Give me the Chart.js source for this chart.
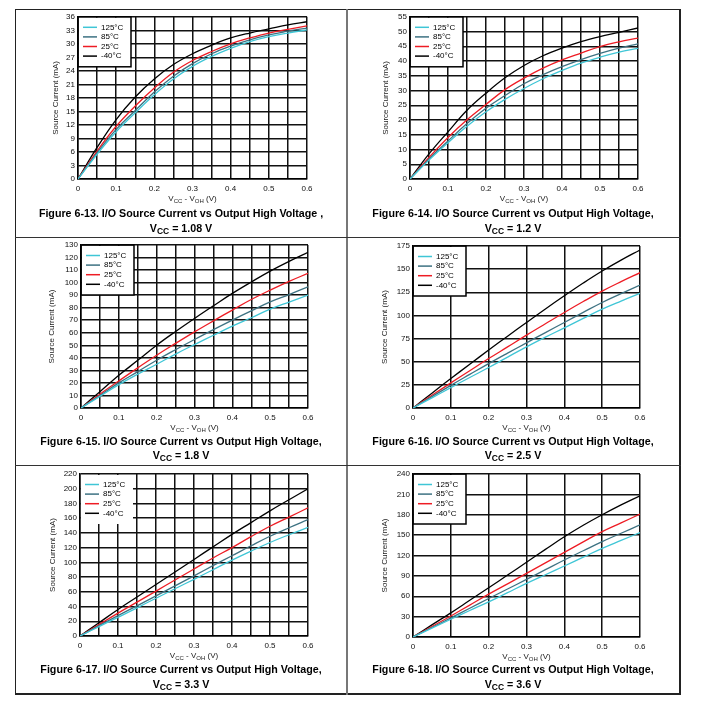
<!DOCTYPE html>
<html>
<head>
<meta charset="utf-8">
<script src="https://cdn.jsdelivr.net/npm/chart.js@4.4.1/dist/chart.umd.min.js"></script>
<style>
body { margin: 0; background: #fff; font-family: "Liberation Sans", Arial, sans-serif; }
.line { position: absolute; background: #222; }
.cell { position: absolute; width: 332px; height: 228px; }
.cell canvas { position: absolute; left: 0; top: 0; }
.cap { position: absolute; left: 0; width: 100%; text-align: center; font-weight: bold; font-size: 10.7px; color: #000; line-height: 12px; }
.cap sub { font-size: 8.5px; vertical-align: -2px; line-height: 0; }
</style>
</head>
<body>
<div class="line" style="left:15px;top:9px;width:666px;height:1px"></div>
<div class="line" style="left:15px;top:693px;width:666px;height:2px"></div>
<div class="line" style="left:15px;top:9px;width:1px;height:686px"></div>
<div class="line" style="left:679px;top:9px;width:2px;height:686px"></div>
<div class="line" style="left:346px;top:9px;width:2px;height:686px;background:#777"></div>
<div class="line" style="left:15px;top:237px;width:666px;height:1px;background:#333"></div>
<div class="line" style="left:15px;top:465px;width:666px;height:1px;background:#333"></div>

<div class="cell" style="left:15px;top:9px"><canvas id="c1" width="332" height="200"></canvas>
  <div class="cap" style="top:198px">Figure 6-13. I/O Source Current vs Output High Voltage ,</div>
  <div class="cap" style="top:213px">V<sub>CC</sub> = 1.08 V</div></div>
<div class="cell" style="left:347px;top:9px"><canvas id="c2" width="332" height="200"></canvas>
  <div class="cap" style="top:198px">Figure 6-14. I/O Source Current vs Output High Voltage,</div>
  <div class="cap" style="top:213px">V<sub>CC</sub> = 1.2 V</div></div>
<div class="cell" style="left:15px;top:237px"><canvas id="c3" width="332" height="200"></canvas>
  <div class="cap" style="top:198px">Figure 6-15. I/O Source Current vs Output High Voltage,</div>
  <div class="cap" style="top:212px">V<sub>CC</sub> = 1.8 V</div></div>
<div class="cell" style="left:347px;top:237px"><canvas id="c4" width="332" height="200"></canvas>
  <div class="cap" style="top:198px">Figure 6-16. I/O Source Current vs Output High Voltage,</div>
  <div class="cap" style="top:212px">V<sub>CC</sub> = 2.5 V</div></div>
<div class="cell" style="left:15px;top:465px"><canvas id="c5" width="332" height="200"></canvas>
  <div class="cap" style="top:198px">Figure 6-17. I/O Source Current vs Output High Voltage,</div>
  <div class="cap" style="top:213px">V<sub>CC</sub> = 3.3 V</div></div>
<div class="cell" style="left:347px;top:465px"><canvas id="c6" width="332" height="200"></canvas>
  <div class="cap" style="top:198px">Figure 6-18. I/O Source Current vs Output High Voltage,</div>
  <div class="cap" style="top:213px">V<sub>CC</sub> = 3.6 V</div></div>

<script>
// V(CC) - V(OH) in volts
const vdrop = [0, 0.05, 0.1, 0.15, 0.2, 0.25, 0.3, 0.35, 0.4, 0.45, 0.5, 0.55, 0.6];
const tempLabels = ['125°C', '85°C', '25°C', '-40°C'];
const tempColors = ['#3fc6d6', '#3d7282', '#ee1c24', '#000000'];

// source current (mA), one array per temperature: 125, 85, 25, -40
const vcc108 = [
  [0, 5.5, 10.5, 14.7, 18.7, 22.2, 25.0, 27.2, 29.0, 30.5, 31.6, 32.4, 33.1],
  [0, 5.8, 11.0, 15.2, 19.3, 22.8, 25.6, 27.8, 29.5, 30.9, 32.0, 32.8, 33.5],
  [0, 6.2, 11.7, 16.2, 20.2, 23.7, 26.3, 28.3, 30.0, 31.3, 32.4, 33.2, 34.0],
  [0, 7.0, 13.2, 18.2, 22.2, 25.4, 27.8, 29.7, 31.3, 32.4, 33.3, 34.2, 34.9]
];
const vcc12 = [
  [0, 6.4, 12.3, 17.9, 22.8, 27.0, 30.7, 34.0, 36.8, 39.3, 41.3, 43.0, 44.3],
  [0, 6.8, 12.9, 18.8, 24.0, 28.3, 32.3, 35.4, 38.1, 40.5, 42.6, 44.4, 45.8],
  [0, 7.3, 14.1, 20.1, 25.3, 30.3, 34.2, 37.6, 40.4, 42.7, 44.9, 46.5, 47.8],
  [0, 8.5, 16.0, 23.3, 29.1, 34.3, 38.5, 41.8, 44.4, 46.6, 48.3, 49.7, 51.2]
];
const vcc18 = [
  [0, 9.3, 18.6, 27.0, 34.9, 43.0, 50.6, 58.0, 65.3, 72.0, 78.8, 84.5, 90.0],
  [0, 10.0, 20.0, 29.0, 38.1, 46.5, 54.6, 62.5, 70.1, 77.5, 84.7, 90.5, 96.7],
  [0, 11.0, 21.6, 32.0, 42.1, 51.5, 60.7, 69.5, 78.1, 86.5, 94.0, 101.0, 107.4],
  [0, 13.0, 26.1, 38.0, 50.1, 61.0, 71.4, 81.5, 91.4, 100.5, 109.2, 117.0, 124.1]
];
const vcc25 = [
  [0, 11.0, 22.0, 33.0, 43.7, 55.0, 66.0, 76.5, 86.6, 96.8, 106.8, 115.5, 123.8],
  [0, 12.3, 24.5, 36.3, 48.0, 59.3, 70.4, 81.5, 92.4, 103.3, 114.0, 123.5, 132.8],
  [0, 13.7, 27.1, 40.3, 53.4, 66.0, 78.7, 91.0, 103.2, 115.0, 126.3, 136.5, 146.2],
  [0, 16.0, 31.8, 47.3, 62.6, 77.6, 92.4, 107.0, 121.2, 135.0, 148.0, 159.8, 170.7]
];
const vcc33 = [
  [0, 12.8, 25.4, 38.3, 51.3, 64.2, 77.0, 90.0, 103.0, 115.3, 127.0, 137.5, 147.5],
  [0, 14.0, 27.7, 41.0, 54.5, 68.0, 81.7, 95.5, 109.0, 122.5, 135.5, 147.0, 158.0],
  [0, 15.5, 31.0, 46.0, 61.0, 76.0, 91.0, 106.0, 120.0, 135.0, 149.0, 161.5, 174.0],
  [0, 18.0, 36.0, 53.0, 70.0, 87.0, 104.0, 121.0, 138.0, 154.0, 170.0, 185.0, 200.0]
];
const vcc36 = [
  [0, 13.0, 26.1, 39.0, 51.7, 65.3, 78.9, 91.7, 104.5, 117.5, 130.6, 142.2, 153.8],
  [0, 14.0, 28.1, 42.4, 56.7, 70.7, 84.8, 99.1, 113.4, 127.0, 140.5, 152.8, 165.1],
  [0, 15.5, 31.0, 47.0, 63.1, 78.3, 93.6, 109.2, 124.7, 140.0, 155.2, 168.0, 180.9],
  [0, 17.8, 35.5, 54.0, 72.5, 91.2, 110.0, 129.0, 147.5, 164.5, 180.0, 194.5, 208.0]
];

const W = 332, H = 200;

const overlayPlugin = {
  id: 'overlay',
  afterDraw(chart) {
    const o = chart.options.plugins.overlay;
    const a = chart.chartArea;
    const ctx = chart.ctx;
    ctx.save();
    // legend box
    ctx.fillStyle = '#fff';
    ctx.fillRect(a.left + 1, a.top + 1, 52, 49);
    if (o.boxBorder) {
      ctx.strokeStyle = '#000';
      ctx.lineWidth = 1.5;
      ctx.strokeRect(a.left, a.top, 53, 50);
    }
    ctx.font = '8px "Liberation Sans", Arial, sans-serif';
    ctx.textBaseline = 'middle';
    ctx.textAlign = 'left';
    tempLabels.forEach((t, i) => {
      const y = a.top + 10.5 + i * 9.6;
      ctx.strokeStyle = tempColors[i];
      ctx.lineWidth = 1.5;
      ctx.beginPath();
      ctx.moveTo(a.left + 5, y);
      ctx.lineTo(a.left + 19, y);
      ctx.stroke();
      ctx.fillStyle = '#000';
      ctx.fillText(t, a.left + 23, y);
    });
    // x title with subscripts
    const parts = [['V', 0], ['CC', 1], [' - V', 0], ['OH', 1], [' (V)', 0]];
    const big = '8px "Liberation Sans", Arial, sans-serif';
    const small = '6px "Liberation Sans", Arial, sans-serif';
    let total = 0;
    parts.forEach(p => { ctx.font = p[1] ? small : big; total += ctx.measureText(p[0]).width; });
    let x = (a.left + a.right) / 2 - total / 2;
    const yb = a.bottom + 22;
    ctx.textBaseline = 'alphabetic';
    ctx.fillStyle = '#222';
    parts.forEach(p => {
      ctx.font = p[1] ? small : big;
      ctx.fillText(p[0], x, yb + (p[1] ? 1.5 : 0));
      x += ctx.measureText(p[0]).width;
    });
    // y title
    ctx.translate(a.left - o.yTitleGap, (a.top + a.bottom) / 2);
    ctx.rotate(-Math.PI / 2);
    ctx.font = big;
    ctx.textAlign = 'center';
    ctx.textBaseline = 'middle';
    ctx.fillText('Source Current (mA)', 0, 0);
    ctx.restore();
  }
};

function makeChart(id, series, yMax, yStep, xStep, box, boxBorder, yTitleGap) {
  const datasets = series.map((vals, i) => ({
    label: tempLabels[i],
    data: vdrop.map((v, j) => ({ x: v, y: vals[j] })),
    borderColor: tempColors[i],
    borderWidth: 1.3,
    pointRadius: 0,
    tension: 0.4,
    fill: false
  }));
  return new Chart(document.getElementById(id), {
    type: 'line',
    data: { datasets },
    plugins: [overlayPlugin],
    options: {
      responsive: false,
      animation: false,
      events: [],
      layout: { padding: { left: 0, top: box.top, right: W - box.right, bottom: 0 } },
      plugins: {
        legend: { display: false },
        tooltip: { enabled: false },
        overlay: { boxBorder, yTitleGap }
      },
      scales: {
        x: {
          type: 'linear', min: 0, max: 0.6,
          afterFit: s => { s.height = H - box.bottom; },
          grid: { color: '#111', lineWidth: 1.5, drawTicks: false },
          border: { color: '#000', width: 1.5 },
          ticks: {
            stepSize: xStep, padding: 5, color: '#111', maxRotation: 0, autoSkip: false,
            font: { size: 8, family: '"Liberation Sans", Arial, sans-serif' },
            callback: v => {
              const t = Math.round(v * 100);
              return t % 10 === 0 ? String(t / 100) : '';
            }
          }
        },
        y: {
          min: 0, max: yMax,
          afterFit: s => { s.width = box.left; },
          grid: { color: '#111', lineWidth: 1.5, drawTicks: false },
          border: { color: '#000', width: 1.5 },
          ticks: {
            stepSize: yStep, padding: 3, color: '#111', autoSkip: false,
            font: { size: 8, family: '"Liberation Sans", Arial, sans-serif' }
          }
        }
      }
    }
  });
}

makeChart('c1', vcc108, 36, 3, 0.05, { left: 63, right: 292, top: 7, bottom: 170 }, true, 22);
makeChart('c2', vcc12, 55, 5, 0.05, { left: 63, right: 291, top: 7, bottom: 170 }, true, 24);
makeChart('c3', vcc18, 130, 10, 0.05, { left: 66, right: 293, top: 8, bottom: 171 }, true, 29);
makeChart('c4', vcc25, 175, 25, 0.1, { left: 66, right: 293, top: 9, bottom: 171 }, true, 28);
makeChart('c5', vcc33, 220, 20, 0.05, { left: 65, right: 293, top: 9, bottom: 171 }, false, 27);
makeChart('c6', vcc36, 240, 30, 0.1, { left: 66, right: 293, top: 9, bottom: 172 }, true, 28);
</script>
</body>
</html>
